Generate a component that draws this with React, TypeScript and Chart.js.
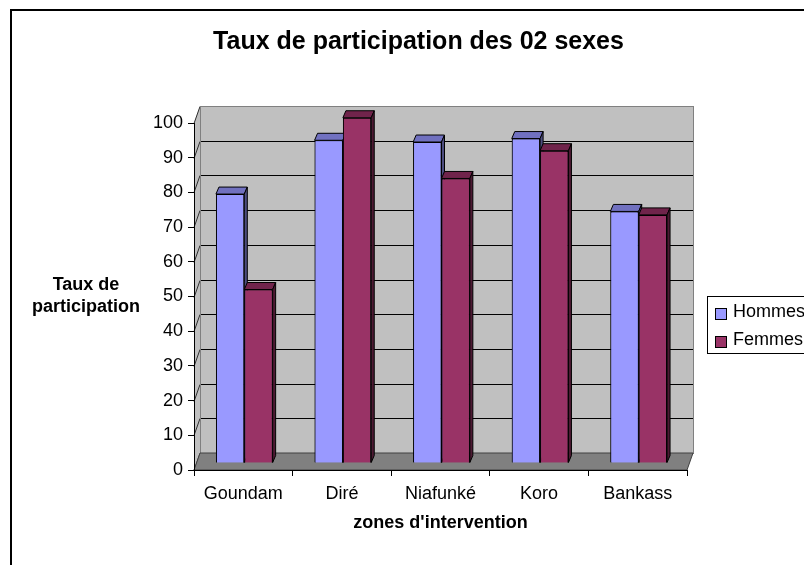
import React, { useEffect, useRef } from "react";
import { Chart, registerables } from "chart.js";

Chart.register(...registerables);

// ---- data ----
const categories = ["Goundam", "Diré", "Niafunké", "Koro", "Bankass"];
const seriesNames = ["Hommes", "Femmes"];
const hommes = [77.5, 93, 92.5, 93.5, 72.5];
const femmes = [50, 99.5, 82, 90, 71.5];
const yMin = 0;
const yMax = 100;
const yStep = 10;
const chartTitle = "Taux de participation des 02 sexes";
const yTitleLines = ["Taux de", "participation"];
const xTitle = "zones d'intervention";

// ---- style ----
const FONT = "Arial, 'Liberation Sans', sans-serif";
const W = 837;
const H = 580;
const frontColors = ["#9999ff", "#993366"];
const topColors = ["#7171c0", "#70244b"];
const sideColors = ["#4d4d80", "#4d1a33"];
const DX = 6, DY = -17; // wall depth
const BDX = 1, BDY = -7; // bar front face offset
const CDX = 3, CDY = -7; // bar depth

const threeD = {
  id: "threeD",
  beforeDraw(chart: any) {
    const ctx = chart.ctx as CanvasRenderingContext2D;
    const { left, right, top, bottom } = chart.chartArea;
    const ys = chart.scales.y;
    ctx.save();
    ctx.fillStyle = "#ffffff";
    ctx.fillRect(0, 0, chart.width, chart.height);
    ctx.strokeStyle = "#000";
    ctx.lineWidth = 2;
    ctx.strokeRect(11, 10, 815, 565);

    // back wall
    ctx.fillStyle = "#c0c0c0";
    ctx.fillRect(left + DX, top + DY, right - left, bottom - top);
    // side wall
    ctx.beginPath();
    ctx.moveTo(left, top);
    ctx.lineTo(left + DX, top + DY);
    ctx.lineTo(left + DX, bottom + DY);
    ctx.lineTo(left, bottom);
    ctx.closePath();
    ctx.fill();

    ctx.lineWidth = 1;
    ys.ticks.forEach((t: any) => {
      const py = Math.round(ys.getPixelForValue(t.value)) + 0.5;
      if (t.value > yMin && t.value < yMax) {
        ctx.strokeStyle = "#000";
        ctx.beginPath();
        ctx.moveTo(left + DX, py + DY);
        ctx.lineTo(right + DX, py + DY);
        ctx.stroke();
      }
      ctx.strokeStyle = "#303030";
      ctx.beginPath();
      ctx.moveTo(left, py);
      ctx.lineTo(left + DX, py + DY);
      ctx.stroke();
    });
    ctx.strokeStyle = "#808080";
    ctx.strokeRect(left + DX + 0.5, top + DY + 0.5, right - left, bottom - top);

    // floor
    ctx.fillStyle = "#808080";
    ctx.strokeStyle = "#404040";
    ctx.beginPath();
    ctx.moveTo(left, bottom);
    ctx.lineTo(right, bottom);
    ctx.lineTo(right + DX, bottom + DY);
    ctx.lineTo(left + DX, bottom + DY);
    ctx.closePath();
    ctx.fill();
    ctx.stroke();
    ctx.restore();
  },
  beforeDatasetsDraw(chart: any) {
    chart.ctx.save();
    chart.ctx.translate(BDX, BDY);
  },
  afterDatasetsDraw(chart: any) {
    const ctx = chart.ctx as CanvasRenderingContext2D;
    const n = chart.data.datasets.length;
    for (let d = 0; d < n; d++) {
      const meta = chart.getDatasetMeta(d);
      meta.data.forEach((el: any) => {
        el.draw(ctx);
        const { x, y, base, width } = el.getProps(["x", "y", "base", "width"], true);
        const x0 = x - width / 2;
        const x1 = x + width / 2;
        ctx.lineWidth = 1;
        ctx.strokeStyle = "#000";
        // top
        ctx.fillStyle = topColors[d];
        ctx.beginPath();
        ctx.moveTo(x0, y);
        ctx.lineTo(x0 + CDX, y + CDY);
        ctx.lineTo(x1 + CDX, y + CDY);
        ctx.lineTo(x1, y);
        ctx.closePath();
        ctx.fill();
        ctx.stroke();
        // side
        ctx.fillStyle = sideColors[d];
        ctx.beginPath();
        ctx.moveTo(x1, y);
        ctx.lineTo(x1 + CDX, y + CDY);
        ctx.lineTo(x1 + CDX, base + CDY);
        ctx.lineTo(x1, base);
        ctx.closePath();
        ctx.fill();
        ctx.stroke();
      });
    }
    ctx.restore();
  },
  afterDraw(chart: any) {
    const ctx = chart.ctx as CanvasRenderingContext2D;
    const { top, bottom } = chart.chartArea;
    ctx.save();
    // y axis title (horizontal, two lines)
    ctx.fillStyle = "#000";
    ctx.font = `bold 18px ${FONT}`;
    ctx.textAlign = "center";
    ctx.textBaseline = "middle";
    const cy = (top + bottom) / 2;
    const lh = 22;
    yTitleLines.forEach((line, i) => {
      ctx.fillText(line, 86, cy - ((yTitleLines.length - 1) * lh) / 2 + i * lh);
    });
    // legend
    const lx = 707, ly = 296, lw = 106, lhgt = 57;
    ctx.fillStyle = "#fff";
    ctx.fillRect(lx, ly, lw, lhgt);
    ctx.strokeStyle = "#000";
    ctx.lineWidth = 1;
    ctx.strokeRect(lx + 0.5, ly + 0.5, lw, lhgt);
    ctx.font = `18px ${FONT}`;
    ctx.textAlign = "left";
    chart.data.datasets.forEach((ds: any, i: number) => {
      const cyi = 313 + i * 28.5;
      ctx.fillStyle = ds.backgroundColor;
      ctx.fillRect(715.5, Math.round(cyi - 5.5) + 0.5, 11, 11);
      ctx.strokeStyle = "#000";
      ctx.strokeRect(715.5, Math.round(cyi - 5.5) + 0.5, 11, 11);
      ctx.fillStyle = "#000";
      ctx.fillText(ds.label, 733, cyi - 1);
    });
    ctx.restore();
  },
};

export default function App() {
  const ref = useRef<HTMLCanvasElement>(null);
  useEffect(() => {
    const chart = new Chart(ref.current as HTMLCanvasElement, {
      type: "bar",
      data: {
        labels: categories,
        datasets: [
          {
            label: seriesNames[0],
            data: hommes,
            backgroundColor: frontColors[0],
            borderColor: "#000",
            borderWidth: 1,
            clip: false as any,
          },
          {
            label: seriesNames[1],
            data: femmes,
            backgroundColor: frontColors[1],
            borderColor: "#000",
            borderWidth: 1,
            clip: false as any,
          },
        ],
      },
      options: {
        animation: false,
        responsive: false,
        devicePixelRatio: 1,
        categoryPercentage: 0.575,
        barPercentage: 1,
        layout: { padding: { left: 150, right: 150, top: 0, bottom: 0 } },
        plugins: {
          legend: { display: false },
          tooltip: { enabled: false },
          title: {
            display: true,
            text: chartTitle,
            color: "#000",
            font: { family: FONT, size: 25, weight: "bold" },
            padding: { top: 27, bottom: 66 },
          },
        },
        scales: {
          x: {
            offset: true,
            grid: {
              display: true,
              drawOnChartArea: false,
              drawTicks: true,
              tickLength: 6,
              color: "#000",
              offset: true,
            },
            border: { display: true, color: "#000", width: 1 },
            ticks: {
              color: "#000",
              font: { family: FONT, size: 18 },
              padding: 7,
              maxRotation: 0,
              autoSkip: false,
            },
            title: {
              display: true,
              text: xTitle,
              color: "#000",
              font: { family: FONT, size: 18, weight: "bold" },
              padding: { top: 0, bottom: 46 },
            },
            afterFit: (s: any) => {
              s.height = 110;
            },
          },
          y: {
            min: yMin,
            max: yMax,
            ticks: {
              stepSize: yStep,
              color: "#000",
              font: { family: FONT, size: 18 },
              padding: 5,
            },
            grid: {
              display: true,
              drawOnChartArea: false,
              drawTicks: true,
              tickLength: 6,
              color: "#000",
            },
            border: { display: true, color: "#000", width: 1 },
            afterFit: (s: any) => {
              s.width = 44;
            },
          },
        },
      },
      plugins: [threeD],
    });
    return () => chart.destroy();
  }, []);
  return (
    <div
      style={{
        position: "fixed",
        left: 0,
        top: 0,
        width: 804,
        height: 565,
        overflow: "hidden",
        background: "#fff",
      }}
    >
      <canvas
        ref={ref}
        width={W}
        height={H}
        style={{ display: "block", width: W, height: H }}
      />
    </div>
  );
}
